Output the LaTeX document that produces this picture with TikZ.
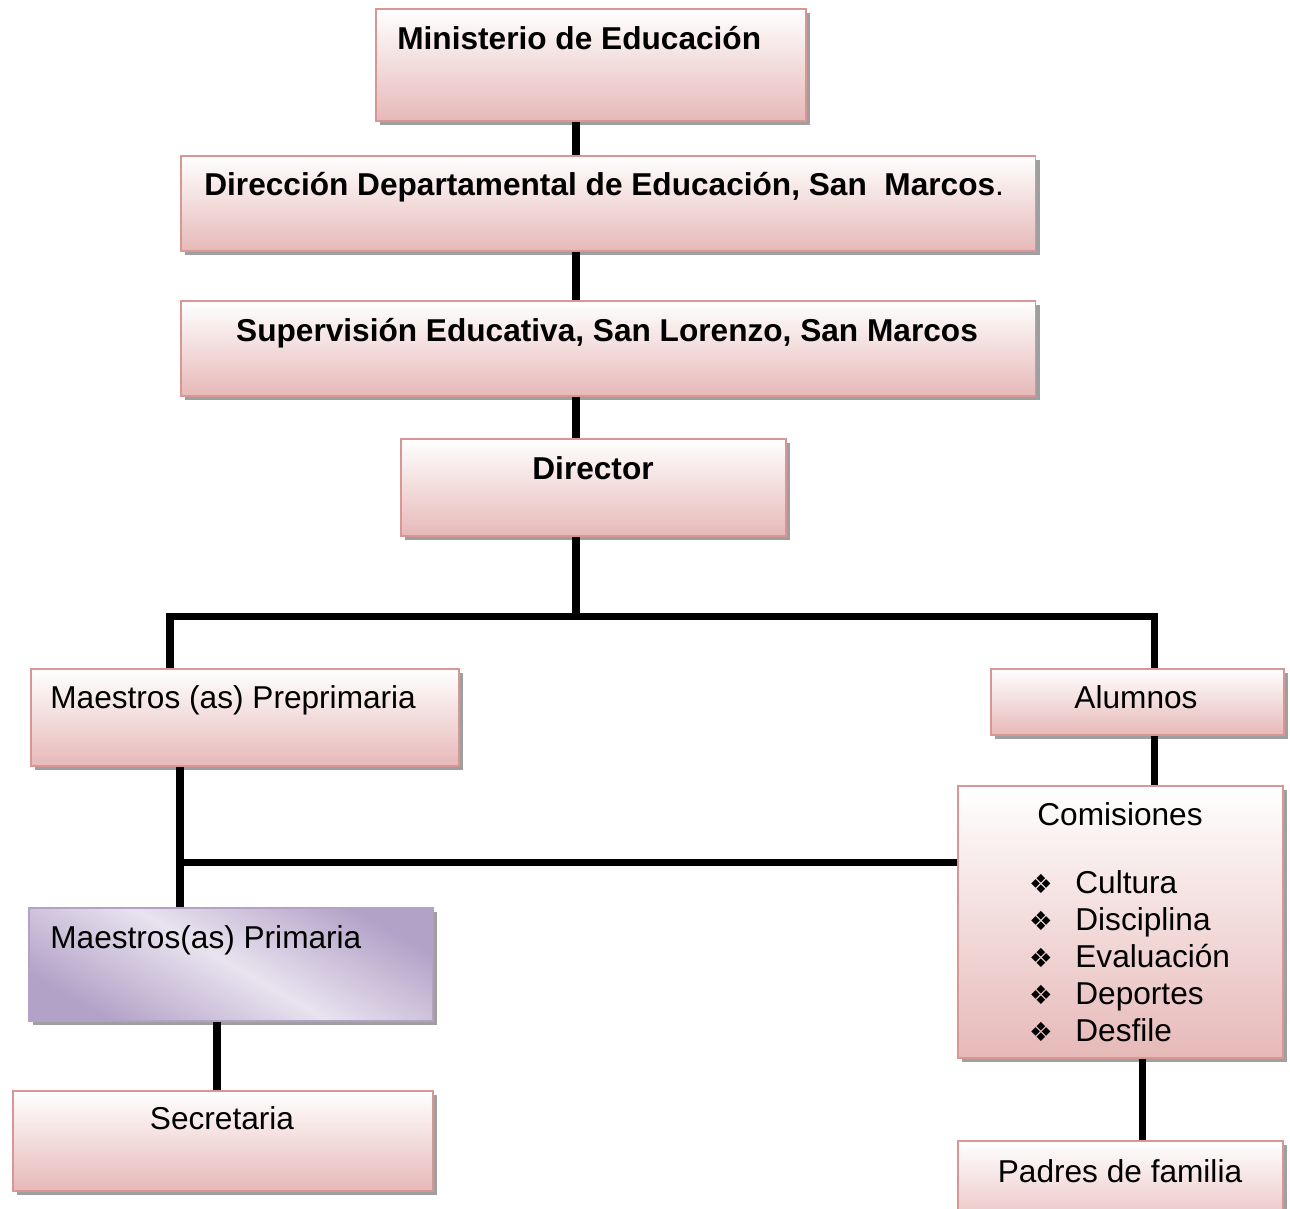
\documentclass[tikz,border=0pt]{standalone}
\usepackage{fontspec}
\setmainfont{Liberation Sans}
\newfontfamily\symfont{DejaVu Sans}
\usepackage{xcolor}
\usepackage{tikz}
\usetikzlibrary{shadows}

\begin{document}
\begin{tikzpicture}[x=0.02cm,y=-0.02cm,
  cargo/.style={draw=rosaline,line width=0.9pt,top color=white,bottom color=rosabot,
    anchor=north west,inner sep=0pt,
    drop shadow={shadow xshift=0.09cm,shadow yshift=-0.09cm,fill=gray!75,opacity=1}},
  cargolila/.style={cargo,draw=lilaline,top color=liladark,bottom color=liladark,
    middle color=lilalight,shading angle=-30},
  lbl/.style={anchor=base,inner sep=0pt,font=\fontsize{18}{22}\selectfont},
  lblb/.style={lbl,font=\fontsize{18}{22}\selectfont\bfseries},
  enlace/.style={line width=4pt,draw=black}]
\definecolor{rosaline}{HTML}{D99694}
\definecolor{rosabot}{HTML}{E6B9B8}
\definecolor{lilaline}{HTML}{B3A2C7}
\definecolor{liladark}{HTML}{B3A2C7}
\definecolor{lilalight}{HTML}{E8E3EF}
\useasboundingbox (0,0) rectangle (1290,1208);
% cajas
\node[cargo,minimum width=8.6cm,minimum height=2.24cm] (ministerio) at (375,8) {};
\node[cargo,minimum width=17.1cm,minimum height=1.9cm] (direccion) at (180,155) {};
\node[cargo,minimum width=17.1cm,minimum height=1.9cm] (supervision) at (180,300) {};
\node[cargo,minimum width=7.7cm,minimum height=1.94cm] (director) at (400,438) {};
\node[cargo,minimum width=8.56cm,minimum height=1.94cm] (preprimaria) at (30,668) {};
\node[cargo,minimum width=5.86cm,minimum height=1.32cm] (alumnos) at (990,668) {};
\node[cargo,minimum width=6.5cm,minimum height=5.44cm] (comisiones) at (957,785) {};
\node[cargolila,minimum width=8.08cm,minimum height=2.26cm] (primaria) at (28,907) {};
\node[cargo,minimum width=8.4cm,minimum height=2.0cm] (secretaria) at (12,1090) {};
\node[cargo,minimum width=6.5cm,minimum height=1.9cm] (padres) at (957,1140) {};
% textos
\node[lblb,anchor=base west] (ministerio-t) at (397,49) {Ministerio de Educación};
\node[lblb,anchor=base west] (direccion-t) at (204,195) {Dirección Departamental de Educación, San\ \ Marcos\textmd{.}};
\node[lblb] (supervision-t) at (607,341) {Supervisión Educativa, San Lorenzo, San Marcos};
\node[lblb] (director-t) at (593,479) {Director};
\node[lbl,anchor=base west] (preprimaria-t) at (50,708) {Maestros (as) Preprimaria};
\node[lbl] (alumnos-t) at (1136,708) {Alumnos};
\node[lbl] (comisiones-t) at (1120,825) {Comisiones};
\foreach \i/\txt in {0/Cultura,1/Disciplina,2/Evaluación,3/Deportes,4/Desfile} {
  \node[lbl] (bala-\i) at (1041,893+\i*37) {\symfont\fontsize{15}{18}\selectfont ❖};
  \node[lbl,anchor=base west] (comision-\i) at (1075,893+\i*37) {\txt};
}
\node[lbl,anchor=base west] (primaria-t) at (50,948) {Maestros(as) Primaria};
\node[lbl] (secretaria-t) at (222,1129) {Secretaria};
\node[lbl] (padres-t) at (1120,1182) {Padres de familia};
% enlaces
\coordinate (eje) at (576,0);
\coordinate (busL) at (170,616);
\coordinate (busR) at (1154,616);
\coordinate (ramal) at (180,862);
\draw[enlace] (ministerio.south -| eje) -- (direccion.north -| eje);
\draw[enlace] (direccion.south -| eje) -- (supervision.north -| eje);
\draw[enlace] (supervision.south -| eje) -- (director.north -| eje);
\draw[enlace] (director.south -| eje) -- (eje |- busL);
\draw[enlace] (preprimaria.north -| busL) |- (busR) -- (alumnos.north -| busR);
\draw[enlace] (alumnos.south -| busR) -- (comisiones.north -| busR);
\draw[enlace] (preprimaria.south -| ramal) -- (primaria.north -| ramal);
\draw[enlace] (ramal) -- (comisiones.west |- ramal);
\draw[enlace] (primaria.south -| 217,0) -- (secretaria.north -| 217,0);
\draw[enlace] (comisiones.south -| 1142,0) -- (padres.north -| 1142,0);
\end{tikzpicture}
\end{document}
